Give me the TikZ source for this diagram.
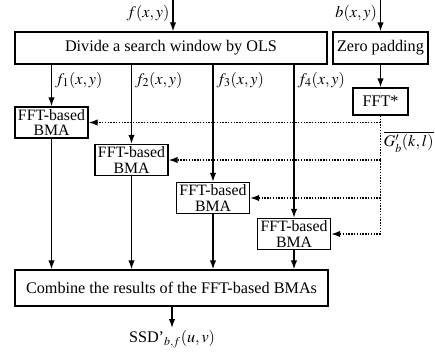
\documentclass[tikz,border=0pt]{standalone}
\usepackage{mathptmx}
\usepackage[no-math]{fontspec}
\setmainfont{Liberation Serif}
\usetikzlibrary{arrows.meta}

\tikzset{
	blk/.style={draw, rectangle, inner sep=0pt, minimum height=32pt},
	bma/.style={draw, rectangle, align=center, inner sep=0pt, minimum width=73pt, minimum height=31pt,
		font=\fontsize{15.8}{15.8}\selectfont},
	dots/.style={dash pattern=on 1.4pt off 1.4pt},
}

\begin{document}
\begin{tikzpicture}[x=1pt, y=-1pt, >={Latex[length=9pt,width=6.5pt]}, line width=1.4pt,
	font=\fontsize{16.2}{16.2}\selectfont]
	\useasboundingbox (0,0) rectangle (435,356);

	% blocks
	\node[blk, minimum width=312pt] (divide) at (171,48) {Divide a search window by OLS};
	\node[blk, minimum width=95pt] (zero) at (380.5,48) {Zero padding};
	\node[blk, minimum width=55pt, minimum height=27pt] (fft) at (380.5,101.5) {FFT*};
	\node[bma] (bma1) at (51.5,122.5) {FFT-based\\BMA};
	\node[bma] (bma2) at (131.5,160) {FFT-based\\BMA};
	\node[bma] (bma3) at (213,198) {FFT-based\\BMA};
	\node[bma] (bma4) at (294,234) {FFT-based\\BMA};
	\node[blk, minimum width=313pt, minimum height=36pt] (combine) at (171.5,288)
		{Combine the results of the FFT-based BMAs};

	% inputs and output
	\path
		(173,0) coordinate (fin)
		(380.5,0) coordinate (bin)
	;
	\node[inner sep=2pt, anchor=north] (ssd) at (172,328) {SSD'$_{b,f}(u,v)$};
	\node[anchor=east, inner sep=3pt] (lf) at (173,13) {$f(x,y)$};
	\node[anchor=east, inner sep=3pt] (lb) at (380.5,13) {$b(x,y)$};

	\draw[->] (fin) -- (fin |- divide.north);
	\draw[->] (bin) -- (zero.north);
	\draw[->] (zero) -- (fft);
	\draw[->] (combine.south -| ssd) -- (ssd.north);

	% sub-windows
	\foreach \i in {1,...,4}{
		\draw[->] (divide.south -| bma\i) -- (bma\i.north);
		\draw[->] (bma\i) -- (bma\i |- combine.north);
		\node[anchor=west, inner sep=2pt] (lf\i) at ([xshift=1pt]bma\i |- 0,80) {$f_\i(x,y)$};
	}

	% conjugate spectrum
	\draw[dots] (fft.south) -- (fft.south |- bma4.east);
	\foreach \i in {1,...,4}
		\draw[dots,->] (fft.south |- bma\i.east) -- (bma\i.east);
	\node[anchor=west, inner sep=2pt] (lg) at (381,142) {$\overline{G'_b(k,l)}$};
\end{tikzpicture}
\end{document}
